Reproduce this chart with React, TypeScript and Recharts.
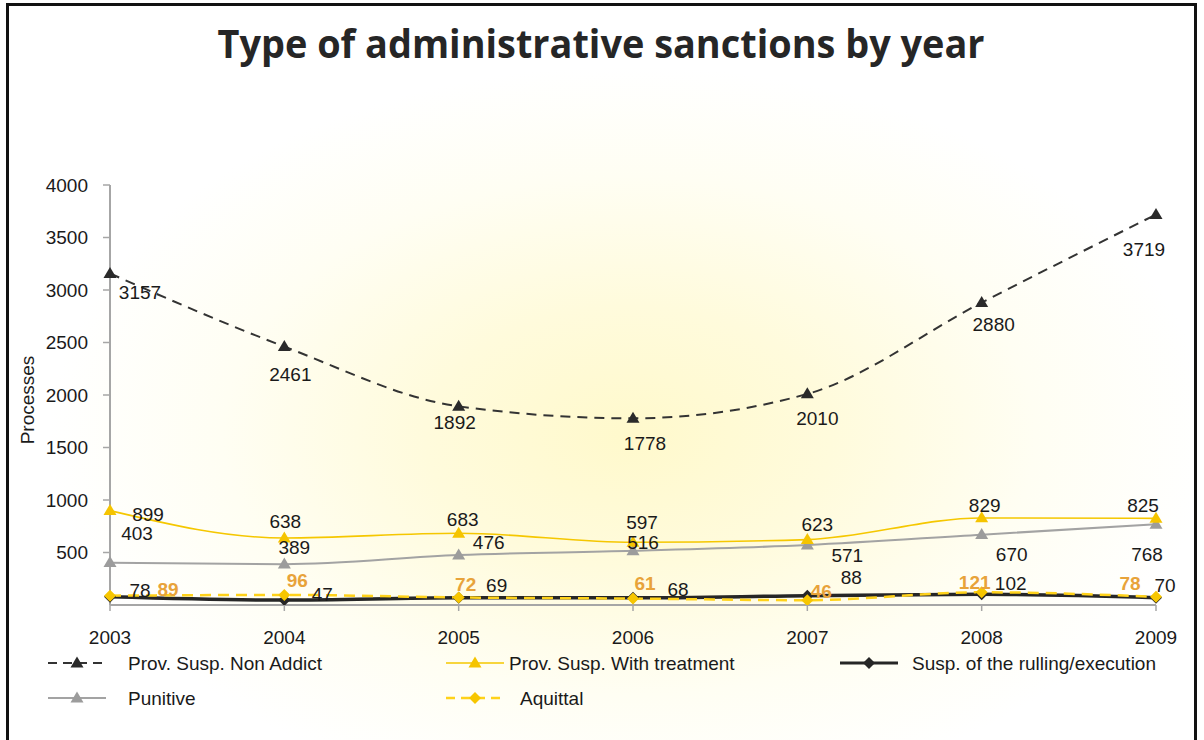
import React from 'react';
import { LineChart, Line, XAxis, YAxis, LabelList } from 'recharts';

const years = ['2003', '2004', '2005', '2006', '2007', '2008', '2009'];
const nonAddict = [3157, 2461, 1892, 1778, 2010, 2880, 3719];
const withTreatment = [899, 638, 683, 597, 623, 829, 825];
const suspRulling = [78, 47, 69, 68, 88, 102, 70];
const punitive = [403, 389, 476, 516, 571, 670, 768];
const aquittal = [89, 96, 72, 61, 46, 121, 78];
const yTicks = [500, 1000, 1500, 2000, 2500, 3000, 3500, 4000];

const title = 'Type of administrative sanctions by year';
const yTitle = 'Processes';

type Marker = 'triangle' | 'diamond';
interface Series {
  key: string;
  name: string;
  values: number[];
  color: string;
  markerColor: string;
  width: number;
  dash?: string;
  marker: Marker;
  labelColor: string;
  labelBold: boolean;
  nudge: [number, number][];
}

const series: Series[] = [
  {
    key: 'punitive', name: 'Punitive', values: punitive, color: '#a3a3a3', markerColor: '#9c9c9c', width: 2,
    marker: 'triangle', labelColor: '#1a1a1a', labelBold: false,
    nudge: [[27, -29], [10, -17], [30, -13], [10, -8], [40, 10], [30, 20], [-9, 30]],
  },
  {
    key: 'withTreatment', name: 'Prov. Susp. With treatment', values: withTreatment, color: '#f5c700', markerColor: '#f5c400', width: 1.6,
    marker: 'triangle', labelColor: '#1a1a1a', labelBold: false,
    nudge: [[38, 4], [1, -17], [4, -14], [9, -20], [10, -15], [3, -12], [-13, -13]],
  },
  {
    key: 'nonAddict', name: 'Prov. Susp. Non Addict', values: nonAddict, color: '#333333', markerColor: '#2a2a2a', width: 2, dash: '10 7',
    marker: 'triangle', labelColor: '#1a1a1a', labelBold: false,
    nudge: [[30, 19], [6, 28], [-4, 16], [12, 25], [10, 25], [12, 22], [-12, 35]],
  },
  {
    key: 'suspRulling', name: 'Susp. of the rulling/execution', values: suspRulling, color: '#262626', markerColor: '#262626', width: 3.5,
    marker: 'diamond', labelColor: '#1a1a1a', labelBold: false,
    nudge: [[30, -6], [38, -6], [38, -12], [45, -8], [44, -18], [29, -11], [9, -12]],
  },
  {
    key: 'aquittal', name: 'Aquittal', values: aquittal, color: '#ffd21a', markerColor: '#f7c600', width: 2.5, dash: '11 7',
    marker: 'diamond', labelColor: '#e8a33a', labelBold: true,
    nudge: [[58, -6], [13, -14], [7, -13], [12, -15], [14, -9], [-7, -10], [-26, -13]],
  },
];

const legendOrder = ['nonAddict', 'withTreatment', 'suspRulling', 'punitive', 'aquittal'];
const legendPlace: Record<string, { x: number; y: number; tx: number }> = {
  nonAddict: { x: 48, y: 663, tx: 128 },
  withTreatment: { x: 446, y: 663, tx: 509 },
  suspRulling: { x: 840, y: 663, tx: 912 },
  punitive: { x: 48, y: 698, tx: 128 },
  aquittal: { x: 446, y: 698, tx: 520 },
};

const chartData = years.map((year, i) => {
  const row: Record<string, string | number> = { year };
  series.forEach((s) => { row[s.key] = s.values[i]; });
  return row;
});

const FONT = '"Liberation Sans", Arial, sans-serif';

function markerShape(kind: Marker, cx: number, cy: number, fill: string, k: string | number) {
  if (kind === 'triangle') {
    const w = 13, h = 11;
    return <polygon key={k} points={`${cx},${cy - h * 0.6} ${cx - w / 2},${cy + h * 0.4} ${cx + w / 2},${cy + h * 0.4}`} fill={fill} />;
  }
  const r = 6;
  return <polygon key={k} points={`${cx},${cy - r} ${cx + r},${cy} ${cx},${cy + r} ${cx - r},${cy}`} fill={fill} />;
}

export default function App() {
  return (
    <div style={{ position: 'absolute', left: 0, top: 0, width: 1204, height: 740, overflow: 'hidden', background: '#fff', fontFamily: FONT }}>
      <div style={{ position: 'absolute', left: 6, top: 3, width: 1191, height: 800, boxSizing: 'border-box', border: '3px solid #111',
        background: 'radial-gradient(ellipse 580px 370px at 620px 430px, #fff9cc 0%, #fffbdc 35%, #fffef3 70%, #ffffff 100%)' }} />
      <svg width={1204} height={80} style={{ position: 'absolute', left: 0, top: 0 }}>
        <text x={601} y={58} textAnchor="middle" textLength={767} lengthAdjust="spacingAndGlyphs"
          style={{ fontFamily: '"Open Sans", "DejaVu Sans", sans-serif', fontWeight: 700, fontSize: 40, fill: '#262626' }}>{title}</text>
      </svg>
      <div style={{ position: 'absolute', left: 0, top: 0 }}>
        <LineChart width={1204} height={740} data={chartData} margin={{ top: 185, right: 48, bottom: 134, left: 109 }}>
          <XAxis dataKey="year" height={1} padding={{ left: 0, right: 0 }} interval={0}
            axisLine={{ stroke: '#a6a6a6', strokeWidth: 2 }} tickLine={{ stroke: '#a6a6a6', strokeWidth: 1.5 }} tickSize={6} tickMargin={20}
            tick={{ fill: '#1a1a1a', fontSize: 19, fontFamily: FONT }} />
          <YAxis width={1} domain={[0, 4000]} ticks={yTicks} interval={0} allowDataOverflow
            axisLine={{ stroke: '#a6a6a6', strokeWidth: 2 }} tickLine={{ stroke: '#a6a6a6', strokeWidth: 1.5 }} tickSize={7} tickMargin={15}
            tick={{ fill: '#1a1a1a', fontSize: 19, fontFamily: FONT }} />
          {series.map((s) => (
            <Line key={s.key} dataKey={s.key} name={s.name} type="monotone" stroke={s.color} strokeWidth={s.width}
              strokeDasharray={s.dash} isAnimationActive={false}
              dot={(p: any) => markerShape(s.marker, p.cx, p.cy, s.markerColor, `${s.key}-${p.index}`)}
              activeDot={false}>
              <LabelList dataKey={s.key} content={(p: any) => {
                const n = s.nudge[p.index] || [0, -14];
                return (
                  <text x={p.x + n[0]} y={p.y + n[1]} textAnchor="middle" dominantBaseline="central"
                    style={{ fontFamily: FONT, fontSize: 19, fontWeight: s.labelBold ? 700 : 400, fill: s.labelColor }}>{p.value}</text>
                );
              }} />
            </Line>
          ))}
          <text x={27} y={400} transform="rotate(-90 27 400)" textAnchor="middle" dominantBaseline="central"
            style={{ fontFamily: FONT, fontSize: 19, fill: '#1a1a1a' }}>{yTitle}</text>
        </LineChart>
      </div>
      <svg width={1204} height={740} style={{ position: 'absolute', left: 0, top: 0, pointerEvents: 'none' }}>
        {legendOrder.map((k) => {
          const s = series.find((x) => x.key === k)!;
          const pl = legendPlace[k];
          return (
            <g key={k}>
              <line x1={pl.x} y1={pl.y} x2={pl.x + 58} y2={pl.y} stroke={s.color} strokeWidth={Math.min(s.width, 3)}
                strokeDasharray={s.dash ? '9 6' : undefined} />
              {markerShape(s.marker, pl.x + 29, pl.y, s.markerColor, 'm')}
              <text x={pl.tx} y={pl.y} dominantBaseline="central" style={{ fontFamily: FONT, fontSize: 19, fill: '#1a1a1a' }}>{s.name}</text>
            </g>
          );
        })}
      </svg>
    </div>
  );
}
